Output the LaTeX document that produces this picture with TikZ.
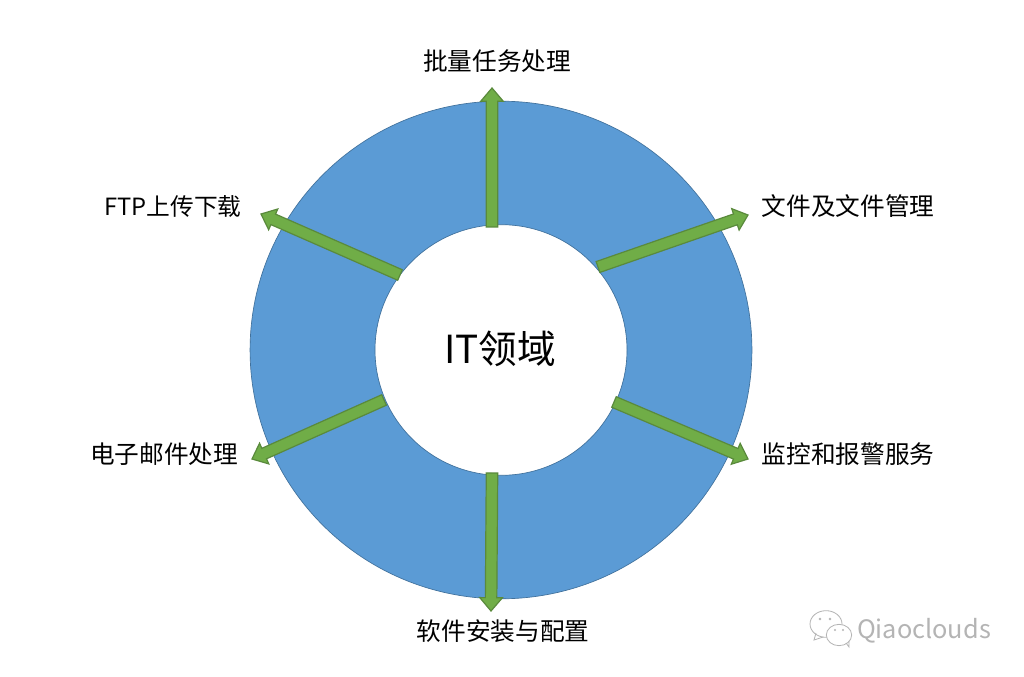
\documentclass[tikz,border=0pt]{standalone}
\usepackage{fontspec}
\setmainfont{Noto Sans CJK SC}
\usetikzlibrary{calc}
\definecolor{ringblue}{HTML}{5B9BD5}
\definecolor{ringedge}{HTML}{41719C}
\definecolor{arrowgreen}{HTML}{70AD47}
\definecolor{arrowedge}{HTML}{5A8A3C}
\definecolor{markgray}{HTML}{B4B4B4}
\tikzset{
  ring/.style={fill=ringblue,draw=ringedge,line width=0.5pt,even odd rule},
  blockarrow/.style={fill=arrowgreen,draw=arrowedge,line width=0.9pt,line join=miter},
  label/.style={font=\fontsize{18.5pt}{22pt}\selectfont,text=black,inner sep=0pt,anchor=center},
  centertext/.style={font=\fontsize{29pt}{34pt}\selectfont,text=black,inner sep=0pt},
  markline/.style={draw=markgray,line width=0.6pt},
  marktext/.style={font=\fontsize{19pt}{22pt}\selectfont,text=markgray,inner sep=0pt}
}
\newcommand{\blockarr}[2]{%
  \draw[blockarrow]
    ($(#1)!4.3pt!90:(#2)$) --
    ($($(#2)!10pt!(#1)$)!4.3pt!90:(#2)$) --
    ($($(#2)!10pt!(#1)$)!8.5pt!90:(#2)$) --
    (#2) --
    ($($(#2)!10pt!(#1)$)!8.5pt!-90:(#2)$) --
    ($($(#2)!10pt!(#1)$)!4.3pt!-90:(#2)$) --
    ($(#1)!4.3pt!-90:(#2)$) -- cycle;}
\begin{document}
\begin{tikzpicture}[x=0.75pt,y=-0.75pt]
\useasboundingbox (0,0) rectangle (1024,677);
\fill[white] (0,0) rectangle (1024,677);
\path[ring] (501,350) ellipse[x radius=188.2pt,y radius=186.6pt] (501,350) ellipse[x radius=94.5pt,y radius=94pt];
\node[centertext] (center) at (500,349) {IT领域};
\node[label] (top) at (497,61) {批量任务处理};
\node[label] (ur) at (848,206) {文件及文件管理};
\node[label] (lr) at (848,454) {监控和报警服务};
\node[label] (bot) at (503,631) {软件安装与配置};
\node[label] (ll) at (164,454) {电子邮件处理};
\node[label,font=\fontsize{17.8pt}{22pt}\selectfont] (ul) at (173,206) {FTP上传下载};
\coordinate (a1) at (492,227); \coordinate (b1) at (492,88);
\coordinate (a2) at (598,267); \coordinate (b2) at (748,215);
\coordinate (a3) at (614,402); \coordinate (b3) at (748,459);
\coordinate (a4) at (492,473); \coordinate (b4) at (491,611);
\coordinate (a5) at (384,400); \coordinate (b5) at (252,459);
\coordinate (a6) at (400,275); \coordinate (b6) at (261,214);
\blockarr{a1}{b1}
\blockarr{a2}{b2}
\blockarr{a3}{b3}
\blockarr{a4}{b4}
\blockarr{a5}{b5}
\blockarr{a6}{b6}
% watermark
\draw[markline,fill=white] (826,624) ellipse[x radius=12pt,y radius=10pt];
\draw[markline] (816,633) -- (814,640) -- (823,637);
\draw[markline,fill=white] (839,635) ellipse[x radius=9.5pt,y radius=8pt];
\draw[markline] (846,643) -- (849,647) -- (849,641);
\fill[markgray] (820,619) circle[radius=1pt] (830,619) circle[radius=1pt] (835,630) circle[radius=0.8pt] (843,630) circle[radius=0.8pt];
\node[marktext] (mark) at (924,631) {Qiaoclouds};
\end{tikzpicture}
\end{document}
